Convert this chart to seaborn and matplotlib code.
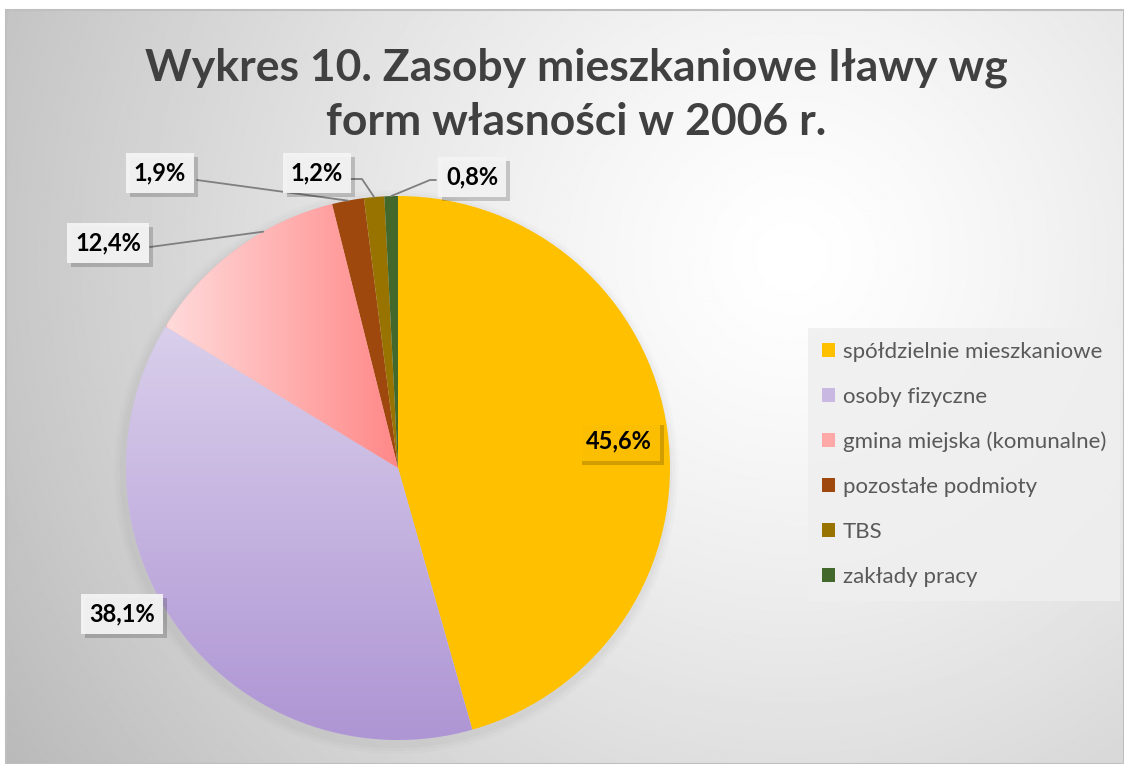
import numpy as np
import matplotlib
matplotlib.use("Agg")
import matplotlib.pyplot as plt
import seaborn as sns
from matplotlib.colors import LinearSegmentedColormap
from matplotlib.patches import Rectangle, Patch

# data
categories = ["spółdzielnie mieszkaniowe", "osoby fizyczne", "gmina miejska (komunalne)",
              "pozostałe podmioty", "TBS", "zakłady pracy"]
values = [45.6, 38.1, 12.4, 1.9, 1.2, 0.8]
labels = ["45,6%", "38,1%", "12,4%", "1,9%", "1,2%", "0,8%"]
title = "Wykres 10. Zasoby mieszkaniowe Iławy wg\nform własności w 2006 r."

colors = ["#FFC000", "#CDBFE3", "#FFB3B3", "#9E480E", "#997300", "#43682B"]

sns.set_style("white")
plt.rcParams["font.family"] = ["Lato", "DejaVu Sans"]

W, H = 1124, 764
fig = plt.figure(figsize=(W / 100, H / 100), dpi=100)
ax = fig.add_axes([0, 0, 1, 1])

# radial background
yy, xx = np.mgrid[0:H, 0:W]
d = np.hypot(xx - 790, yy - 250) / 850
bg = 1 - 0.24 * np.clip(d, 0, 1.2) ** 1.3
ax.imshow(bg, cmap="gray", vmin=0, vmax=1, extent=(6, W, 0, H - 10),
          origin="upper", zorder=0, interpolation="bilinear")
ax.add_patch(Rectangle((6, 0), W - 6, H - 10, fill=False, edgecolor="#bfbfbf", lw=1.5, zorder=1))

cx, cy, r = 398, H - 468, 272

# soft shadow
for k, a in [(10, 0.03), (7, 0.04), (4, 0.05)]:
    ax.add_patch(plt.Circle((cx - 2, cy - 4), r + k, color="#808080", alpha=a, lw=0, zorder=1))

wedges, _ = ax.pie(values, colors=colors, startangle=90, counterclock=False,
                   center=(cx, cy), radius=r,
                   wedgeprops=dict(edgecolor="none", zorder=2))

ax.set_xlim(0, W)
ax.set_ylim(0, H)
ax.set_aspect("auto")
ax.axis("off")

# gradient fills for lavender and pink
lav = LinearSegmentedColormap.from_list("lav", ["#e7e1f2", "#ae95d4"])
grad_v = np.linspace(0, 1, 256).reshape(-1, 1)
im = ax.imshow(grad_v, cmap=lav, extent=(cx - r, cx + r, cy - r, cy + r),
               origin="upper", aspect="auto", zorder=3)
im.set_clip_path(wedges[1])
pink = LinearSegmentedColormap.from_list("pink", ["#ffdada", "#ff8888"])
grad_h = np.linspace(0, 1, 256).reshape(1, -1)
im2 = ax.imshow(grad_h, cmap=pink, extent=(cx - 0.85 * r, cx, cy, cy + r),
                aspect="auto", zorder=3)
im2.set_clip_path(wedges[2])

# label boxes (pixel positions of the text centres) and leader lines
label_pos = [(619, 441), (122, 614), (108, 243), (160, 173), (317, 173), (472, 177)]
elbow = [None, None, None, None, (362, 179), (430, 180)]
line_start = [None, None, (150, 247), (197, 180), (347, 179), (436, 180)]
line_frac = [None, None, 0.35, 0.5, 0.5, 0.5]

texts = []
for i, (w, lab) in enumerate(zip(wedges, labels)):
    px, py = label_pos[i]
    face = "#FFC000" if i == 0 else "#f4f4f4"
    t = ax.text(px, H - py, lab, ha="center", va="center", fontsize=17, fontweight="bold",
                color="black", zorder=6,
                bbox=dict(boxstyle="square,pad=0.35", fc=face, ec="none", alpha=0.95))
    texts.append(t)
    if line_start[i] is not None:
        ang = np.deg2rad(w.theta1 + (w.theta2 - w.theta1) * line_frac[i])
        ex, ey = cx + r * np.cos(ang), cy + r * np.sin(ang)
        sx, sy = line_start[i]
        pts_x, pts_y = [sx], [H - sy]
        if elbow[i] is not None:
            pts_x.append(elbow[i][0])
            pts_y.append(H - elbow[i][1])
        pts_x.append(ex)
        pts_y.append(ey)
        ax.plot(pts_x, pts_y, color="#7f7f7f", lw=1.3, zorder=4)

# drop shadows behind the label boxes
fig.canvas.draw()
for t in texts:
    bb = t.get_bbox_patch().get_window_extent().transformed(ax.transData.inverted())
    ax.add_patch(Rectangle((bb.x0 + 4, bb.y0 - 4), bb.width, bb.height,
                           fc="black", ec="none", alpha=0.18, zorder=5))

ax.text(W / 2 + 14, H - 95, title, ha="center", va="center", fontsize=32,
        fontweight="bold", color="#404040", linespacing=1.42, zorder=6)

handles = [Patch(facecolor=c, edgecolor="none") for c in ["#FFC000", "#C9B9E2", "#FFA8A8",
                                                           "#9E480E", "#997300", "#43682B"]]
leg = ax.legend(handles, categories, loc="upper left", bbox_to_anchor=(808 / W, 1 - 328 / H),
                bbox_transform=fig.transFigure, frameon=True, fancybox=False,
                fontsize=16, labelspacing=1.12, handlelength=0.6, handleheight=0.6,
                handletextpad=0.35, borderpad=0.62, borderaxespad=0,
                labelcolor="#595959")
leg.get_frame().set_facecolor("#efefef")
leg.get_frame().set_edgecolor("none")
leg.get_frame().set_alpha(0.85)
leg.set_zorder(7)

fig.savefig("out.png", dpi=100, facecolor="white")
